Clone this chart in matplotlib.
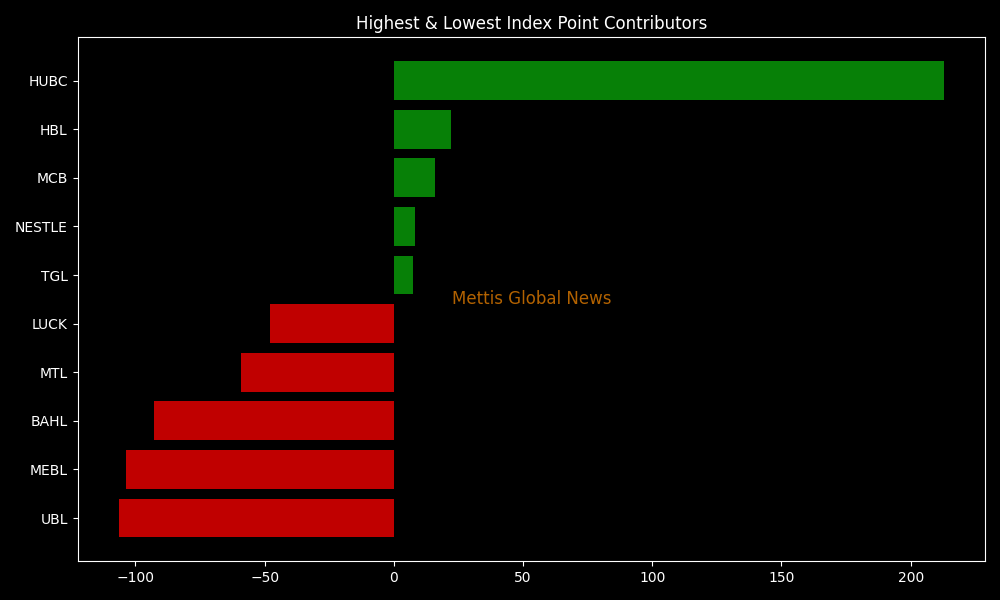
import matplotlib
matplotlib.use("Agg")
import matplotlib.pyplot as plt

# === DATA ===
symbols = ["UBL", "MEBL", "BAHL", "MTL", "LUCK", "TGL", "NESTLE", "MCB", "HBL", "HUBC"]
points = [-106.4, -103.7, -92.8, -59.2, -48.0, 7.3, 8.1, 15.9, 22.0, 212.8]

# === PLOT ===
plt.style.use("dark_background")
fig, ax = plt.subplots(figsize=(10, 6), dpi=100)

colors = ["#078007" if v > 0 else "#c00000" for v in points]
ax.barh(symbols, points, color=colors)

ax.set_title("Highest & Lowest Index Point Contributors")
ax.text(0.5, 0.5, "Mettis Global News", transform=ax.transAxes,
        ha="center", va="center", fontsize=12, color="darkorange", alpha=0.7)

plt.tight_layout()
plt.savefig("out.png", dpi=100)
